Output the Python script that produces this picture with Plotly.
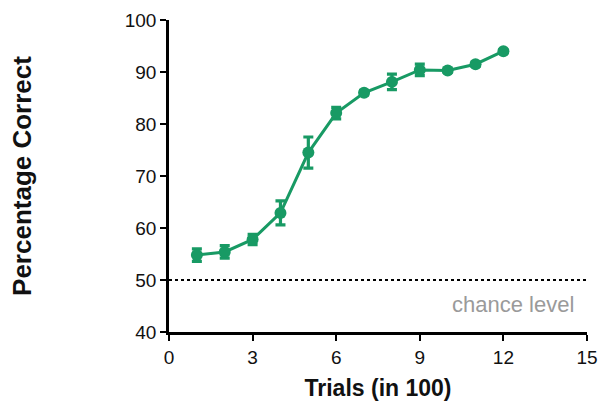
import plotly.graph_objects as go

# Learning curve: mean percentage correct per block of 100 trials
trials = [1, 2, 3, 4, 5, 6, 7, 8, 9, 10, 11, 12]
pct_correct = [54.8, 55.4, 57.8, 62.9, 74.5, 82.1, 86.0, 88.1, 90.4, 90.3, 91.5, 94.0]
sem = [1.2, 1.2, 1.0, 2.3, 3.0, 1.1, 0.4, 1.5, 1.1, 0.4, 0.4, 0.3]

chance = 50
x_ticks = [0, 3, 6, 9, 12, 15]
y_ticks = [40, 50, 60, 70, 80, 90, 100]

green = "rgb(24,154,100)"
font_family = "Liberation Sans, Arial, sans-serif"

fig = go.Figure()

# Chance-level reference line
fig.add_trace(go.Scatter(
    x=[0, 15], y=[chance, chance], mode="lines",
    line=dict(color="black", width=2.2, dash="dot"),
    hoverinfo="skip", showlegend=False,
))

fig.add_trace(go.Scatter(
    x=trials, y=pct_correct, mode="lines+markers",
    line=dict(color=green, width=3),
    marker=dict(color=green, size=12, symbol="circle"),
    error_y=dict(type="data", array=sem, visible=True,
                 color=green, thickness=3.2, width=5),
    showlegend=False,
))

fig.add_annotation(
    x=14.6, y=45.2, xref="x", yref="y", text="chance level",
    showarrow=False, xanchor="right", yanchor="middle",
    font=dict(family=font_family, size=22, color="#9a9a9a"),
)

axis_common = dict(
    showgrid=False, zeroline=False, showline=True, automargin=False,
    linecolor="black", linewidth=2.5,
    ticks="outside", ticklen=6, tickwidth=2.2, tickcolor="black",
    tickfont=dict(family=font_family, size=19, color="#111111"),
)

fig.update_xaxes(
    range=[0, 15], tickvals=x_ticks,
    title=dict(text="<b>Trials (in 100)</b>",
               font=dict(family=font_family, size=23, color="#111111"),
               standoff=14),
    **axis_common,
)
fig.update_yaxes(
    range=[40, 100], tickvals=y_ticks,
    title=dict(text="<b>Percentage Correct</b>",
               font=dict(family=font_family, size=26, color="#111111"),
               standoff=86),
    **axis_common,
)

fig.update_layout(
    width=603, height=412,
    margin=dict(l=169, r=16, t=20, b=80),
    plot_bgcolor="white", paper_bgcolor="white",
)

fig.write_html("out.html")
